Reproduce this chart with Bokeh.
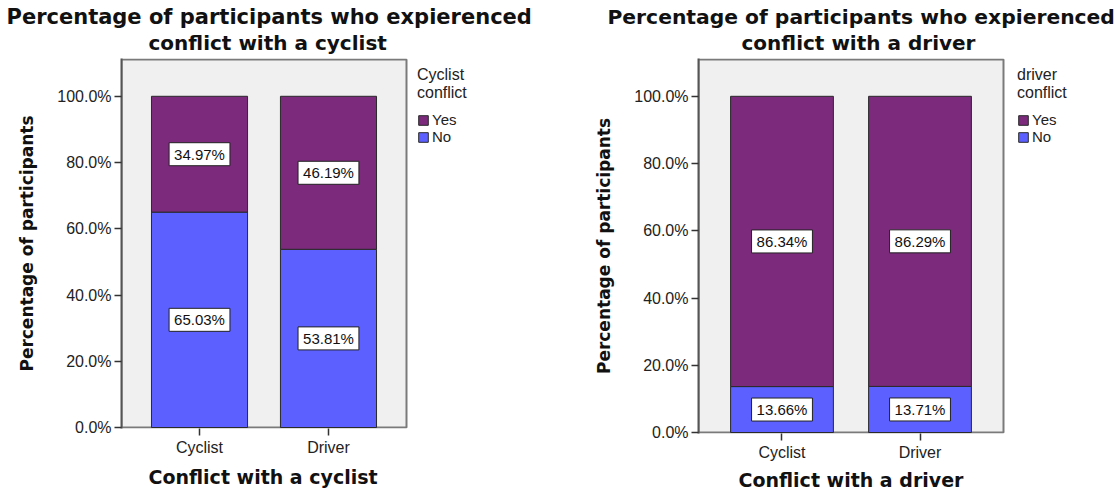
from bokeh.plotting import figure
from bokeh.models import Range1d, FixedTicker, Legend, LegendItem, ColumnDataSource, Title
from bokeh.layouts import row
from bokeh.embed import file_html
from bokeh.resources import INLINE
from bokeh.core.properties import value

categories = ["Cyclist", "Driver"]
cyclist_conflict_no = [65.03, 53.81]
cyclist_conflict_yes = [34.97, 46.19]
driver_conflict_no = [13.66, 13.71]
driver_conflict_yes = [86.34, 86.29]
y_ticks = [0, 20, 40, 60, 80, 100]
y_tick_labels = ["0.0%", "20.0%", "40.0%", "60.0%", "80.0%", "100.0%"]

YES_COLOR = "#7B2A7C"
NO_COLOR = "#5C60FF"
FRAME_BG = "#F0F0F0"
BOLD_FONT = "DejaVu Sans"
TEXT_FONT = "Liberation Sans"
BOTTOM_BORDER = 62          # shared by both figures (row aligns frames)
X_LO, X_HI = 0.395, 2.605   # category axis extent of the grey plot box
BAR_W = 0.745


def make_chart(title_lines, title_sizes, title_offsets, xlabel, xlabel_offset,
               xlabel_standoff, legend_title, legend_xy, no_vals, yes_vals,
               W, frame_left, box_right, box_top, y0, y100):
    # layout geometry (canvas pixels) -> ranges
    frame_top = box_top - 1
    frame_bottom = y0 + 1
    H = frame_bottom + BOTTOM_BORDER
    x_scale = (box_right - frame_left) / (X_HI - X_LO)
    x_end = X_LO + (W - frame_left) / x_scale
    y_scale = (y0 - y100) / 100.0
    y_end = (y0 - frame_top) / y_scale
    y_start = -(frame_bottom - y0) / y_scale
    box_top_val = (y0 - box_top) / y_scale

    xs = list(range(1, len(categories) + 1))
    p = figure(width=W, height=H,
               x_range=Range1d(X_LO, x_end), y_range=Range1d(y_start, y_end),
               output_backend="svg", toolbar_location=None,
               min_border_left=frame_left, min_border_right=0,
               min_border_top=frame_top, min_border_bottom=BOTTOM_BORDER,
               title=None)
    p.background_fill_color = "white"
    p.border_fill_color = "white"
    p.outline_line_color = None
    p.xgrid.visible = False
    p.ygrid.visible = False

    # two title lines; the one added first sits closest to the frame
    p.add_layout(Title(text=title_lines[1], align="left", offset=title_offsets[1],
                       text_font=BOLD_FONT, text_font_style="bold",
                       text_font_size=title_sizes[1], text_color="#111111",
                       standoff=4, vertical_align="top"), "above")
    p.add_layout(Title(text=title_lines[0], align="left", offset=title_offsets[0],
                       text_font=BOLD_FONT, text_font_style="bold",
                       text_font_size=title_sizes[0], text_color="#111111",
                       standoff=0, vertical_align="bottom"), "above")

    # grey plot box
    p.quad(left=[X_LO], right=[X_HI], bottom=[0], top=[box_top_val],
           fill_color=FRAME_BG, line_color="#7A7A7A", line_width=2)

    totals = [a + b for a, b in zip(no_vals, yes_vals)]
    src = ColumnDataSource(dict(
        x=xs, no=no_vals, total=totals,
        no_mid=[a / 2 for a in no_vals],
        yes_mid=[a + b / 2 for a, b in zip(no_vals, yes_vals)],
        no_lbl=["%.2f%%" % v for v in no_vals],
        yes_lbl=["%.2f%%" % v for v in yes_vals],
    ))
    r_no = p.vbar(x="x", bottom=0, top="no", width=BAR_W, source=src,
                  fill_color=NO_COLOR, line_color="#2A2A2A", line_width=1)
    r_yes = p.vbar(x="x", bottom="no", top="total", width=BAR_W, source=src,
                   fill_color=YES_COLOR, line_color="#2A2A2A", line_width=1)

    for ycol, tcol in (("no_mid", "no_lbl"), ("yes_mid", "yes_lbl")):
        p.text(x="x", y=ycol, text=tcol, source=src,
               text_align="center", text_baseline="middle",
               text_font=value(TEXT_FONT), text_font_size="15px",
               text_color="#111111",
               background_fill_color="white",
               border_line_color="#222222", border_line_width=1,
               padding=dict(left=5, right=5, top=3, bottom=3))

    # axes
    p.yaxis.ticker = FixedTicker(ticks=y_ticks)
    p.yaxis.major_label_overrides = {t: l for t, l in zip(y_ticks, y_tick_labels)}
    p.xaxis.ticker = FixedTicker(ticks=xs)
    p.xaxis.major_label_overrides = {x: c for x, c in zip(xs, categories)}
    for ax in (p.xaxis[0], p.yaxis[0]):
        ax.minor_tick_line_color = None
        ax.major_tick_in = 0
        ax.major_tick_out = 7
        ax.major_tick_line_color = "#333333"
        ax.major_tick_line_width = 1.5
        ax.major_label_text_font = TEXT_FONT
        ax.major_label_text_font_size = "16px"
        ax.major_label_text_color = "#222222"
        ax.axis_label_text_font = BOLD_FONT
        ax.axis_label_text_font_style = "bold"
        ax.axis_label_text_color = "#111111"
    p.xaxis.axis_line_color = None
    p.xaxis.major_label_standoff = 3
    p.xaxis.axis_label_standoff = 0
    p.yaxis.axis_line_color = "#555555"
    p.yaxis.axis_line_width = 2
    p.yaxis.axis_label = "Percentage of participants"
    p.yaxis.axis_label_text_font_size = "17px"
    p.yaxis.major_label_standoff = 3
    p.yaxis.axis_label_standoff = 17

    # x axis title, centred under the grey box
    p.add_layout(Title(text=xlabel, align="left", offset=xlabel_offset,
                       text_font=BOLD_FONT, text_font_style="bold",
                       text_font_size="19px", text_color="#111111",
                       standoff=xlabel_standoff, vertical_align="bottom"), "below")

    legend = Legend(items=[LegendItem(label="Yes", renderers=[r_yes]),
                           LegendItem(label="No", renderers=[r_no])],
                    title=legend_title, location=legend_xy,
                    orientation="vertical")
    legend.title_text_font = TEXT_FONT
    legend.title_text_font_size = "16px"
    legend.title_text_font_style = "normal"
    legend.title_text_color = "#222222"
    legend.title_text_line_height = 0.9
    legend.title_standoff = 9
    legend.label_text_font = TEXT_FONT
    legend.label_text_font_size = "15px"
    legend.label_text_color = "#222222"
    legend.glyph_width = 12
    legend.glyph_height = 12
    legend.label_height = 14
    legend.label_standoff = 3
    legend.spacing = 0
    legend.padding = 0
    legend.margin = 0
    legend.border_line_color = None
    legend.background_fill_alpha = 0
    p.add_layout(legend)
    return p


left = make_chart(["Percentage of participants who expierenced", "conflict with a cyclist"],
                  ["21px", "20px"], [-115, 27],
                  "Conflict with a cyclist", 27, 10,
                  "Cyclist\nconflict", (296, 283),
                  cyclist_conflict_no, cyclist_conflict_yes,
                  560, 121, 406, 59, 429, 96)
right = make_chart(["Percentage of participants who expierenced", "conflict with a driver"],
                   ["20.3px", "20px"], [-91, 43],
                   "Conflict with a driver", 40, 6,
                   "driver\nconflict", (319, 288),
                   driver_conflict_no, driver_conflict_yes,
                   557, 138, 443, 59, 434, 96)

layout = row(left, right)
open("out.html", "w").write(file_html(layout, INLINE))
